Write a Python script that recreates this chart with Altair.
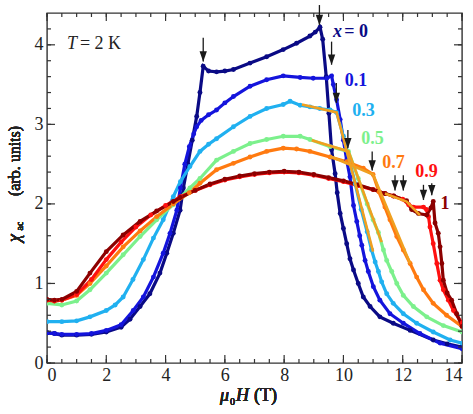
import altair as alt
import pandas as pd

# ---------------- data ----------------
names = ["0", "0.1", "0.3", "0.5", "0.7", "0.9", "1"]
colors = ["#0a0a85", "#1414dc", "#20b0f0", "#7cf08c", "#ff7a10", "#ff1010", "#8c0000"]

H0 = [0, 0.25, 0.5, 1.0, 1.5, 2.0, 2.5, 2.8, 3.14, 3.47, 3.81, 4.04, 4.26, 4.49, 4.6, 4.75, 4.9, 5.05, 5.16, 5.27,
      5.45, 5.72, 6.0, 6.29, 6.85, 7.41, 7.97, 8.42, 8.87, 9.05, 9.21, 9.30, 9.42, 9.51, 9.60, 9.72, 9.79, 9.89, 10.0, 10.11,
      10.22, 10.34, 10.5, 10.67, 10.9, 11.23, 11.68, 12.25, 13.03, 13.5, 14.0]
C0 = [0.38, 0.37, 0.35, 0.35, 0.36, 0.39, 0.45, 0.55, 0.71, 0.87, 1.13, 1.38, 1.63, 1.92, 2.2, 2.5, 2.8, 3.1, 3.4, 3.73,
      3.67, 3.66, 3.67, 3.69, 3.77, 3.85, 3.94, 4.02, 4.11, 4.16, 4.22, 4.07, 3.6, 3.14, 2.68, 2.38, 2.14, 1.88, 1.69, 1.50,
      1.31, 1.17, 1.00, 0.83, 0.71, 0.58, 0.50, 0.41, 0.29, 0.24, 0.20]

H1 = [0, 0.25, 0.5, 1.0, 1.5, 2.0, 2.5, 2.91, 3.25, 3.59, 3.92, 4.15, 4.38, 4.5, 4.65, 4.8, 4.95, 5.05, 5.2, 5.45,
      5.72, 6.0, 6.29, 6.85, 7.41, 7.97, 8.54, 8.98, 9.44, 9.6, 9.66, 9.77, 9.89, 10.0, 10.11, 10.22, 10.34, 10.45, 10.55, 10.62,
      10.73, 10.84, 11.01, 11.23, 11.57, 12.02, 12.58, 13.26, 14.0]
C1 = [0.38, 0.37, 0.36, 0.36, 0.37, 0.41, 0.48, 0.66, 0.83, 1.08, 1.38, 1.63, 1.92, 2.2, 2.5, 2.72, 2.88, 2.97, 3.05, 3.12,
      3.18, 3.27, 3.35, 3.48, 3.56, 3.61, 3.59, 3.58, 3.58, 3.61, 3.50, 3.31, 3.06, 2.80, 2.55, 2.34, 1.98, 1.78, 1.60, 1.48,
      1.29, 1.15, 0.96, 0.79, 0.62, 0.50, 0.37, 0.25, 0.18]

H3 = [0, 0.5, 1.0, 1.45, 2.0, 2.3, 2.57, 2.9, 3.25, 3.59, 3.92, 4.26, 4.5, 4.82, 5.16, 5.45, 5.72, 6.29, 6.85, 7.41,
      7.97, 8.2, 8.54, 8.87, 9.2, 9.55, 9.77, 10.0, 10.2, 10.4, 10.6, 10.8, 10.95, 11.07, 11.18, 11.29, 11.46, 11.68, 12.02, 12.47,
      13.03, 13.6, 14.0]
C3 = [0.52, 0.52, 0.53, 0.58, 0.66, 0.73, 0.83, 1.05, 1.30, 1.57, 1.80, 2.09, 2.28, 2.47, 2.66, 2.75, 2.82, 2.97, 3.10, 3.20,
      3.25, 3.29, 3.24, 3.22, 3.20, 3.18, 3.15, 2.85, 2.55, 2.25, 1.93, 1.65, 1.42, 1.27, 1.15, 1.02, 0.87, 0.75, 0.62, 0.50,
      0.39, 0.29, 0.25]

H5 = [0, 0.5, 1.0, 1.45, 2.0, 2.57, 3.14, 3.7, 4.26, 4.82, 5.16, 5.72, 6.29, 6.85, 7.41, 7.97, 8.54, 8.87, 9.55, 10.17,
      10.5, 10.8, 11.0, 11.18, 11.35, 11.46, 11.63, 11.8, 12.02, 12.36, 12.81, 13.37, 14.0]
C5 = [0.75, 0.73, 0.78, 0.92, 1.13, 1.36, 1.59, 1.80, 1.99, 2.20, 2.32, 2.55, 2.66, 2.76, 2.81, 2.85, 2.85, 2.81, 2.72, 2.66,
      2.32, 2.0, 1.8, 1.64, 1.42, 1.29, 1.15, 1.0, 0.85, 0.71, 0.58, 0.47, 0.39]

H7 = [0, 0.25, 0.5, 1.0, 1.45, 2.0, 2.57, 3.14, 3.7, 4.26, 4.8, 5.16, 5.72, 6.29, 6.85, 7.41, 7.97, 8.42, 8.87, 9.55,
      10.11, 10.67, 11.0, 11.2, 11.4, 11.57, 11.8, 12.02, 12.25, 12.47, 12.7, 13.03, 13.48, 14.0]
C7 = [0.79, 0.78, 0.79, 0.85, 1.00, 1.22, 1.46, 1.66, 1.84, 2.00, 2.14, 2.26, 2.43, 2.51, 2.59, 2.66, 2.70, 2.69, 2.66, 2.59,
      2.53, 2.45, 2.37, 2.15, 1.96, 1.80, 1.59, 1.42, 1.25, 1.08, 0.92, 0.75, 0.60, 0.46]

H9 = [0, 0.25, 0.5, 1.0, 1.5, 2.0, 2.5, 3.0, 3.5, 4.0, 4.5, 5.0, 5.5, 6.0, 6.5, 7.0, 7.5, 8.0, 8.5, 9.0,
      9.5, 10.0, 10.5, 11.0, 11.4, 11.68, 12.0, 12.2, 12.36, 12.7, 12.8, 12.87, 12.92, 13.03, 13.15, 13.26, 13.37, 13.54, 13.71, 14.0]
C9 = [0.79, 0.78, 0.79, 0.86, 1.05, 1.30, 1.52, 1.71, 1.86, 1.98, 2.09, 2.17, 2.24, 2.30, 2.34, 2.37, 2.39, 2.40, 2.39, 2.36,
      2.32, 2.28, 2.23, 2.18, 2.13, 2.10, 2.06, 1.99, 1.96, 1.96, 1.93, 1.84, 1.71, 1.50, 1.25, 1.04, 0.92, 0.79, 0.66, 0.50]

H10 = [0, 0.25, 0.5, 1.0, 1.45, 2.0, 2.57, 3.14, 3.7, 4.26, 4.5, 5.0, 5.5, 6.0, 6.5, 7.0, 7.5, 8.0, 8.5, 9.0,
       9.5, 10.0, 10.5, 11.0, 11.4, 11.7, 12.13, 12.3, 12.53, 12.81, 12.95, 13.03, 13.09, 13.2, 13.26, 13.32, 13.37, 13.5, 13.65, 13.82,
       14.0]
C10 = [0.80, 0.79, 0.80, 0.90, 1.13, 1.40, 1.61, 1.78, 1.91, 2.03, 2.08, 2.17, 2.25, 2.31, 2.35, 2.38, 2.40, 2.41, 2.40, 2.37,
       2.33, 2.29, 2.24, 2.18, 2.13, 2.10, 2.04, 1.93, 1.88, 1.86, 1.95, 2.03, 1.76, 1.63, 1.46, 1.25, 1.04, 0.88, 0.79, 0.62,
       0.46]

# linear guide lines (orange)
fit_group = ["a", "a", "a", "b", "b", "b", "c", "c", "c", "d", "d", "d"]
fit_H = [8.6, 9.77, 11.0, 8.93, 10.17, 11.29, 9.55, 11.0, 12.25, 11.4, 12.13, 12.58]
fit_C = [3.25, 3.15, 1.40, 2.80, 2.66, 1.52, 2.60, 2.37, 1.25, 2.13, 2.03, 1.86]

# arrows
arr_H = [5.27, 9.19, 9.60, 9.76, 10.15, 10.97, 11.74, 12.02, 12.70, 12.98]
arr_top = [4.09, 4.50, 4.04, 3.52, 2.93, 2.66, 2.36, 2.36, 2.24, 2.26]
arr_tip = [3.79, 4.25, 3.75, 3.27, 2.70, 2.42, 2.17, 2.17, 2.05, 2.11]

# series labels
lab_text = ["0.1", "0.3", "0.5", "0.7", "0.9", "1"]
lab_series = ["0.1", "0.3", "0.5", "0.7", "0.9", "1"]
lab_H = [10.42, 10.68, 10.98, 11.69, 12.80, 13.43]
lab_C = [3.55, 3.17, 2.82, 2.52, 2.40, 2.00]

x_ticks = [0, 2, 4, 6, 8, 10, 12, 14]
y_ticks = [0, 1, 2, 3, 4]
x_minor = [i * 0.5 for i in range(29)]
y_minor = [round(i * 0.2, 2) for i in range(22)]

# ---------------- build ----------------
W, HT = 415, 350
SERIF = "Liberation Serif"
rows = []
for nm, hs, cs in zip(names, [H0, H1, H3, H5, H7, H9, H10], [C0, C1, C3, C5, C7, C9, C10]):
    for h, c in zip(hs, cs):
        rows.append({"series": nm, "H": h, "chi": c})
df = pd.DataFrame(rows)

xs = alt.Scale(domain=[0, 14], nice=False, zero=False)
ys = alt.Scale(domain=[0, 4.4], nice=False, zero=False)
xaxis = alt.Axis(title=None, values=x_ticks, ticks=False, domain=False, grid=False, labelFont=SERIF,
                 labelFontSize=18, labelColor="#222", labelPadding=3, format="d")
yaxis = alt.Axis(title=None, values=y_ticks, ticks=False, domain=False, grid=False, labelFont=SERIF,
                 labelFontSize=18, labelColor="#222", labelPadding=4, format="d")
col = alt.Color("series:N", scale=alt.Scale(domain=names, range=colors), legend=None)

X = alt.X("H:Q", scale=xs, axis=xaxis)
Y = alt.Y("chi:Q", scale=ys, axis=yaxis)

lines = alt.Chart(df).mark_line(strokeWidth=3.2, clip=True).encode(x=X, y=Y, color=col)
pts = alt.Chart(df).mark_circle(size=24, opacity=1, clip=True).encode(x=X, y=Y, color=col)

fit_df = pd.DataFrame({"g": fit_group, "H": fit_H, "chi": fit_C})
fits = alt.Chart(fit_df).mark_line(color="#f0a020", strokeWidth=2.6).encode(x=X, y=Y, detail="g:N")

arr_df = pd.DataFrame({"H": arr_H, "top": arr_top, "tip": arr_tip})
stems = alt.Chart(arr_df).mark_rule(color="#1a1a1a", strokeWidth=1.3).encode(
    x=X, y=alt.Y("top:Q", scale=ys, axis=yaxis), y2="tip:Q")
heads = alt.Chart(arr_df).mark_point(shape="M-0.7,-1L0.7,-1L0,1Z", filled=True, size=110, color="#1a1a1a",
                                     opacity=1, yOffset=-5).encode(x=X, y=alt.Y("tip:Q", scale=ys, axis=yaxis))

lab_df = pd.DataFrame({"t": lab_text, "series": lab_series, "H": lab_H, "chi": lab_C})
labels = alt.Chart(lab_df).mark_text(font=SERIF, fontSize=18, fontWeight="bold", align="center",
                                     baseline="middle").encode(x=X, y=Y, text="t:N", color=col)
x0_df = pd.DataFrame({"t": ["x"], "series": ["0"], "H": [9.65], "chi": [4.16]})
x0a = alt.Chart(x0_df).mark_text(font=SERIF, fontSize=18, fontWeight="bold", fontStyle="italic", align="left",
                                 baseline="middle").encode(x=X, y=Y, text="t:N", color=col)
x0_df2 = pd.DataFrame({"t": ["= 0"], "series": ["0"], "H": [10.03], "chi": [4.16]})
x0b = alt.Chart(x0_df2).mark_text(font=SERIF, fontSize=18, fontWeight="bold", align="left",
                                  baseline="middle").encode(x=X, y=Y, text="t:N", color=col)

t_df = pd.DataFrame({"t": ["T"], "H": [0.675], "chi": [4.01]})
tT = alt.Chart(t_df).mark_text(font=SERIF, fontSize=18, fontStyle="italic", align="left", baseline="middle",
                               color="#222").encode(x=X, y=Y, text="t:N")
t_df2 = pd.DataFrame({"t": ["= 2 K"], "H": [1.11], "chi": [4.01]})
tK = alt.Chart(t_df2).mark_text(font=SERIF, fontSize=18, align="left", baseline="middle",
                                color="#222").encode(x=X, y=Y, text="t:N")

# inward ticks on all four sides
TC = "#333"
xmaj = pd.DataFrame({"H": x_ticks})
xmin = pd.DataFrame({"H": x_minor})
ymaj = pd.DataFrame({"chi": y_ticks})
ymin = pd.DataFrame({"chi": y_minor})
tk = []
for d, ln in [(xmaj, 8), (xmin, 4)]:
    tk.append(alt.Chart(d).mark_rule(color=TC, strokeWidth=1.2).encode(x=X, y=alt.value(HT), y2=alt.value(HT - ln)))
    tk.append(alt.Chart(d).mark_rule(color=TC, strokeWidth=1.2).encode(x=X, y=alt.value(0), y2=alt.value(ln)))
for d, ln in [(ymaj, 8), (ymin, 4)]:
    tk.append(alt.Chart(d).mark_rule(color=TC, strokeWidth=1.2).encode(y=Y, x=alt.value(0), x2=alt.value(ln)))
    tk.append(alt.Chart(d).mark_rule(color=TC, strokeWidth=1.2).encode(y=Y, x=alt.value(W), x2=alt.value(W - ln)))

# axis titles as text pieces
def txt(s, x, y, size=18, style="normal", angle=0, align="left", baseline="alphabetic"):
    kw = dict(text=s, font=SERIF, fontSize=size, fontStyle=style, align=align, baseline=baseline, color="#222")
    if angle:
        kw["angle"] = angle
    return alt.Chart(xmaj).mark_text(**kw).encode(x=alt.value(x), y=alt.value(y))

titles = [
    txt("μ", 173, 388, style="italic"),
    txt("0", 183, 392, size=10),
    txt("H", 189, 388, style="italic"),
    txt("(T)", 207, 388),
    txt("(arb. units)", -32, 148, size=16, angle=270, align="center", baseline="middle"),
    txt("χ", -32, 225, size=18, angle=270, style="italic", align="center", baseline="middle"),
    txt("ac", -27, 213, size=10, angle=270, align="center", baseline="middle"),
]

chart = alt.layer(lines, pts, fits, stems, heads, labels, x0a, x0b, tT, tK, *tk, *titles).properties(
    width=W, height=HT,
    padding={"left": 47, "top": 13, "right": 11, "bottom": 51},
    autosize=alt.AutoSizeParams(type="none"),
).configure_view(stroke="#333", strokeWidth=1.4)

chart.save("out.html", embed_options={"renderer": "svg", "actions": False})
